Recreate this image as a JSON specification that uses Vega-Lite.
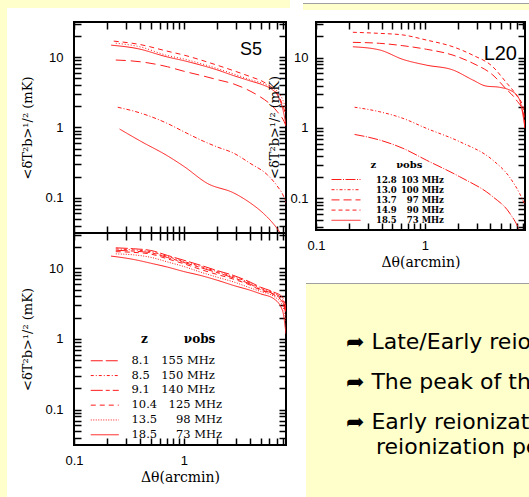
{
"$schema":"https://vega.github.io/schema/vega-lite/v6.json",
"padding":0,
"background":"white",
"config":{
 "view":{"stroke":null},
 "axis":{"domain":false,"grid":false,"ticks":true,"tickSize":7,"offset":-7,"tickColor":"#000","tickWidth":1.5,"tickOpacity":1,"labelFont":"Liberation Sans","labelFontSize":13,"labelColor":"#000","titleFont":"DejaVu Serif","titleFontSize":13,"titleFontWeight":"normal","titleColor":"#000","labelOverlap":false,"labelFlush":false}
},
"datasets":{
 "s5":[
  {"c":"c1","t":0.23,"v":16.9},{"c":"c1","t":0.4,"v":15.1},{"c":"c1","t":0.7,"v":12.2},{"c":"c1","t":1,"v":10.7},{"c":"c1","t":1.43,"v":9.1},{"c":"c1","t":2,"v":7.7},{"c":"c1","t":2.85,"v":6.4},{"c":"c1","t":4,"v":5.3},{"c":"c1","t":5.3,"v":4.45},{"c":"c1","t":6.3,"v":3.7},{"c":"c1","t":7.3,"v":2.8},{"c":"c1","t":8,"v":2.0},{"c":"c1","t":8.5,"v":1.5},
  {"c":"c2","t":0.24,"v":15.8},{"c":"c2","t":0.4,"v":14.0},{"c":"c2","t":0.7,"v":10.6},{"c":"c2","t":1,"v":9.4},{"c":"c2","t":1.43,"v":8.1},{"c":"c2","t":2,"v":6.9},{"c":"c2","t":2.85,"v":5.75},{"c":"c2","t":4,"v":4.8},{"c":"c2","t":5.3,"v":4.2},{"c":"c2","t":6.3,"v":3.7},{"c":"c2","t":7.3,"v":3.1},{"c":"c2","t":8,"v":2.4},{"c":"c2","t":8.5,"v":1.8},
  {"c":"c3","t":0.218,"v":14.8},{"c":"c3","t":0.38,"v":13.2},{"c":"c3","t":0.7,"v":10.1},{"c":"c3","t":1,"v":8.9},{"c":"c3","t":1.43,"v":7.7},{"c":"c3","t":2,"v":6.6},{"c":"c3","t":2.85,"v":5.45},{"c":"c3","t":4,"v":4.6},{"c":"c3","t":5.3,"v":4.0},{"c":"c3","t":6.3,"v":3.5},{"c":"c3","t":7.1,"v":2.9},{"c":"c3","t":7.9,"v":1.9},{"c":"c3","t":8.5,"v":1.1},
  {"c":"c4","t":0.24,"v":9.1},{"c":"c4","t":0.4,"v":8.6},{"c":"c4","t":0.71,"v":7.3},{"c":"c4","t":1,"v":6.3},{"c":"c4","t":1.43,"v":5.5},{"c":"c4","t":2,"v":4.8},{"c":"c4","t":2.85,"v":4.15},{"c":"c4","t":4,"v":3.3},{"c":"c4","t":5,"v":2.7},{"c":"c4","t":6,"v":2.2},{"c":"c4","t":7.1,"v":1.67},{"c":"c4","t":8.2,"v":1.2},{"c":"c4","t":8.5,"v":1.05},
  {"c":"c5","t":0.25,"v":1.94},{"c":"c5","t":0.41,"v":1.59},{"c":"c5","t":0.7,"v":1.15},{"c":"c5","t":1,"v":0.87},{"c":"c5","t":1.5,"v":0.64},{"c":"c5","t":2,"v":0.53},{"c":"c5","t":2.85,"v":0.43},{"c":"c5","t":4,"v":0.31},{"c":"c5","t":5.8,"v":0.21},{"c":"c5","t":7,"v":0.15},{"c":"c5","t":8.1,"v":0.104},{"c":"c5","t":8.5,"v":0.085},
  {"c":"c6","t":0.26,"v":0.95},{"c":"c6","t":0.41,"v":0.63},{"c":"c6","t":0.7,"v":0.4},{"c":"c6","t":1,"v":0.28},{"c":"c6","t":1.64,"v":0.16},{"c":"c6","t":2.85,"v":0.117},{"c":"c6","t":4,"v":0.085},{"c":"c6","t":5.3,"v":0.06},{"c":"c6","t":6.5,"v":0.043},{"c":"c6","t":7.3,"v":0.034},{"c":"c6","t":7.7,"v":0.03}
 ],
 "l20":[
  {"c":"14.9\u2002\u200790 MHz","t":0.218,"v":22.8},{"c":"14.9\u2002\u200790 MHz","t":0.384,"v":22.0},{"c":"14.9\u2002\u200790 MHz","t":0.628,"v":20.9},{"c":"14.9\u2002\u200790 MHz","t":1.03,"v":17.7},{"c":"14.9\u2002\u200790 MHz","t":1.81,"v":14.2},{"c":"14.9\u2002\u200790 MHz","t":2.75,"v":10.8},{"c":"14.9\u2002\u200790 MHz","t":4.2,"v":7.4},{"c":"14.9\u2002\u200790 MHz","t":5.5,"v":4.55},{"c":"14.9\u2002\u200790 MHz","t":6.9,"v":2.94},{"c":"14.9\u2002\u200790 MHz","t":7.95,"v":2.0},{"c":"14.9\u2002\u200790 MHz","t":8.3,"v":1.0},
  {"c":"13.7\u2002\u200797 MHz","t":0.218,"v":16.4},{"c":"13.7\u2002\u200797 MHz","t":0.384,"v":15.9},{"c":"13.7\u2002\u200797 MHz","t":0.628,"v":14.7},{"c":"13.7\u2002\u200797 MHz","t":1.03,"v":13.1},{"c":"13.7\u2002\u200797 MHz","t":1.81,"v":10.8},{"c":"13.7\u2002\u200797 MHz","t":2.75,"v":8.3},{"c":"13.7\u2002\u200797 MHz","t":4.2,"v":5.65},{"c":"13.7\u2002\u200797 MHz","t":5.5,"v":3.65},{"c":"13.7\u2002\u200797 MHz","t":6.9,"v":2.5},{"c":"13.7\u2002\u200797 MHz","t":7.95,"v":1.7},{"c":"13.7\u2002\u200797 MHz","t":8.3,"v":1.0},
  {"c":"18.5\u2002\u200773 MHz","t":0.218,"v":14.2},{"c":"18.5\u2002\u200773 MHz","t":0.384,"v":12.8},{"c":"18.5\u2002\u200773 MHz","t":0.628,"v":9.4},{"c":"18.5\u2002\u200773 MHz","t":1.03,"v":7.8},{"c":"18.5\u2002\u200773 MHz","t":1.81,"v":6.65},{"c":"18.5\u2002\u200773 MHz","t":2.75,"v":4.8},{"c":"18.5\u2002\u200773 MHz","t":3.63,"v":3.94},{"c":"18.5\u2002\u200773 MHz","t":4.84,"v":3.78},{"c":"18.5\u2002\u200773 MHz","t":6.41,"v":3.27},{"c":"18.5\u2002\u200773 MHz","t":7.4,"v":2.5},{"c":"18.5\u2002\u200773 MHz","t":8.3,"v":1.0},
  {"c":"13.0\u2002100 MHz","t":0.226,"v":1.97},{"c":"13.0\u2002100 MHz","t":0.384,"v":1.7},{"c":"13.0\u2002100 MHz","t":0.628,"v":1.37},{"c":"13.0\u2002100 MHz","t":1.03,"v":0.99},{"c":"13.0\u2002100 MHz","t":2.08,"v":0.64},{"c":"13.0\u2002100 MHz","t":4.2,"v":0.35},{"c":"13.0\u2002100 MHz","t":6.0,"v":0.2},{"c":"13.0\u2002100 MHz","t":7.4,"v":0.118},{"c":"13.0\u2002100 MHz","t":8.3,"v":0.081},
  {"c":"12.8\u2002103 MHz","t":0.226,"v":0.81},{"c":"12.8\u2002103 MHz","t":0.384,"v":0.675},{"c":"12.8\u2002103 MHz","t":0.628,"v":0.515},{"c":"12.8\u2002103 MHz","t":1.03,"v":0.35},{"c":"12.8\u2002103 MHz","t":2.08,"v":0.204},{"c":"12.8\u2002103 MHz","t":4.2,"v":0.106},{"c":"12.8\u2002103 MHz","t":6.0,"v":0.062},{"c":"12.8\u2002103 MHz","t":7.4,"v":0.034},{"c":"12.8\u2002103 MHz","t":7.6,"v":0.03}
 ],
 "zb":[
  {"c":"\u20078.1\u2003155 MHz","t":0.24,"v":19.5},{"c":"\u20078.1\u2003155 MHz","t":0.35,"v":18.9},{"c":"\u20078.1\u2003155 MHz","t":0.5,"v":17.9},{"c":"\u20078.1\u2003155 MHz","t":0.71,"v":15.2},{"c":"\u20078.1\u2003155 MHz","t":1,"v":13.0},{"c":"\u20078.1\u2003155 MHz","t":1.43,"v":11.0},{"c":"\u20078.1\u2003155 MHz","t":2,"v":9.3},{"c":"\u20078.1\u2003155 MHz","t":2.85,"v":7.9},{"c":"\u20078.1\u2003155 MHz","t":4,"v":6.4},{"c":"\u20078.1\u2003155 MHz","t":5,"v":5.4},{"c":"\u20078.1\u2003155 MHz","t":6.6,"v":4.6},{"c":"\u20078.1\u2003155 MHz","t":7.9,"v":3.9},{"c":"\u20078.1\u2003155 MHz","t":8.5,"v":2.8},
  {"c":"\u20078.5\u2003150 MHz","t":0.24,"v":18.8},{"c":"\u20078.5\u2003150 MHz","t":0.35,"v":18.2},{"c":"\u20078.5\u2003150 MHz","t":0.5,"v":17.2},{"c":"\u20078.5\u2003150 MHz","t":0.71,"v":14.7},{"c":"\u20078.5\u2003150 MHz","t":1,"v":12.5},{"c":"\u20078.5\u2003150 MHz","t":1.43,"v":10.6},{"c":"\u20078.5\u2003150 MHz","t":2,"v":9.0},{"c":"\u20078.5\u2003150 MHz","t":2.85,"v":7.6},{"c":"\u20078.5\u2003150 MHz","t":4,"v":6.2},{"c":"\u20078.5\u2003150 MHz","t":5,"v":5.2},{"c":"\u20078.5\u2003150 MHz","t":6.6,"v":4.45},{"c":"\u20078.5\u2003150 MHz","t":7.9,"v":3.6},{"c":"\u20078.5\u2003150 MHz","t":8.5,"v":2.6},
  {"c":"\u20079.1\u2003140 MHz","t":0.24,"v":18.0},{"c":"\u20079.1\u2003140 MHz","t":0.35,"v":17.5},{"c":"\u20079.1\u2003140 MHz","t":0.5,"v":16.6},{"c":"\u20079.1\u2003140 MHz","t":0.71,"v":14.2},{"c":"\u20079.1\u2003140 MHz","t":1,"v":12.1},{"c":"\u20079.1\u2003140 MHz","t":1.43,"v":10.2},{"c":"\u20079.1\u2003140 MHz","t":2,"v":8.7},{"c":"\u20079.1\u2003140 MHz","t":2.85,"v":7.3},{"c":"\u20079.1\u2003140 MHz","t":4,"v":6.0},{"c":"\u20079.1\u2003140 MHz","t":5,"v":5.0},{"c":"\u20079.1\u2003140 MHz","t":6.6,"v":4.3},{"c":"\u20079.1\u2003140 MHz","t":7.9,"v":3.4},{"c":"\u20079.1\u2003140 MHz","t":8.5,"v":2.4},
  {"c":"10.4\u2003125 MHz","t":0.24,"v":17.2},{"c":"10.4\u2003125 MHz","t":0.35,"v":16.8},{"c":"10.4\u2003125 MHz","t":0.5,"v":15.9},{"c":"10.4\u2003125 MHz","t":0.71,"v":13.6},{"c":"10.4\u2003125 MHz","t":1,"v":11.6},{"c":"10.4\u2003125 MHz","t":1.43,"v":9.6},{"c":"10.4\u2003125 MHz","t":2,"v":8.2},{"c":"10.4\u2003125 MHz","t":2.85,"v":7.0},{"c":"10.4\u2003125 MHz","t":4,"v":5.8},{"c":"10.4\u2003125 MHz","t":5,"v":4.9},{"c":"10.4\u2003125 MHz","t":6.6,"v":4.2},{"c":"10.4\u2003125 MHz","t":7.9,"v":3.3},{"c":"10.4\u2003125 MHz","t":8.5,"v":2.2},
  {"c":"13.5\u2003\u200798 MHz","t":0.24,"v":16.0},{"c":"13.5\u2003\u200798 MHz","t":0.35,"v":15.5},{"c":"13.5\u2003\u200798 MHz","t":0.5,"v":14.3},{"c":"13.5\u2003\u200798 MHz","t":0.71,"v":12.3},{"c":"13.5\u2003\u200798 MHz","t":1,"v":10.6},{"c":"13.5\u2003\u200798 MHz","t":1.43,"v":8.8},{"c":"13.5\u2003\u200798 MHz","t":2,"v":7.5},{"c":"13.5\u2003\u200798 MHz","t":2.85,"v":6.4},{"c":"13.5\u2003\u200798 MHz","t":4,"v":5.3},{"c":"13.5\u2003\u200798 MHz","t":5,"v":4.7},{"c":"13.5\u2003\u200798 MHz","t":6.6,"v":4.0},{"c":"13.5\u2003\u200798 MHz","t":7.9,"v":3.0},{"c":"13.5\u2003\u200798 MHz","t":8.5,"v":1.8},
  {"c":"18.5\u2003\u200773 MHz","t":0.217,"v":14.9},{"c":"18.5\u2003\u200773 MHz","t":0.353,"v":13.3},{"c":"18.5\u2003\u200773 MHz","t":0.5,"v":11.8},{"c":"18.5\u2003\u200773 MHz","t":0.71,"v":10.4},{"c":"18.5\u2003\u200773 MHz","t":1,"v":9.0},{"c":"18.5\u2003\u200773 MHz","t":1.43,"v":7.9},{"c":"18.5\u2003\u200773 MHz","t":2,"v":6.8},{"c":"18.5\u2003\u200773 MHz","t":2.85,"v":5.7},{"c":"18.5\u2003\u200773 MHz","t":4,"v":4.9},{"c":"18.5\u2003\u200773 MHz","t":5,"v":4.35},{"c":"18.5\u2003\u200773 MHz","t":6.6,"v":3.7},{"c":"18.5\u2003\u200773 MHz","t":7.9,"v":2.52},{"c":"18.5\u2003\u200773 MHz","t":8.5,"v":1.18}
 ],
 "notes":[
  {"para":"1","level":0,"text":"➦ Late/Early reio"},
  {"para":"2","level":0,"text":"➦ The peak of the"},
  {"para":"3","level":0,"text":"➦ Early reionizati"},
  {"para":"3","level":1,"text":"reionization pe"}
 ]
},
"spacing":0,
"bounds":"full",
"resolve":{"scale":{"strokeDash":"independent"},"legend":{"strokeDash":"independent"}},
"hconcat":[
 {"width":7,"height":497,"view":{"stroke":null,"fill":"#ffffcc"},"data":{"values":[]},"mark":"text","encoding":{"text":{"value":""}}},
 {"spacing":0,"bounds":"full",
  "resolve":{"scale":{"strokeDash":"independent"},"legend":{"strokeDash":"independent"}},
  "vconcat":[
   {"spacing":0,"bounds":"full","hconcat":[
     {"width":283,"height":8,"view":{"stroke":null,"fill":"#ffffcc"},"data":{"values":[]},"mark":"text","encoding":{"text":{"value":""}}},
     {"width":13,"height":1,"view":{"stroke":null},"data":{"values":[]},"mark":"text","encoding":{"text":{"value":""}}},
     {"spacing":0,"bounds":"full","vconcat":[
       {"width":226,"height":3,"view":{"stroke":null},"data":{"values":[]},"mark":"text","encoding":{"text":{"value":""}}},
       {"width":226,"height":1,"view":{"stroke":null,"fill":"#a0a0a0"},"data":{"values":[]},"mark":"text","encoding":{"text":{"value":""}}},
       {"width":226,"height":6,"view":{"stroke":null,"fill":"#ffffcc"},"data":{"values":[]},"mark":"text","encoding":{"text":{"value":""}}}
     ]}
   ]},
   {"spacing":0,"bounds":"full",
    "resolve":{"scale":{"strokeDash":"independent"},"legend":{"strokeDash":"independent"}},
    "hconcat":[
     {"width":13,"height":1,"view":{"stroke":null},"data":{"values":[]},"mark":"text","encoding":{"text":{"value":""}}},
     {"spacing":-21,"bounds":"full",
      "resolve":{"scale":{"strokeDash":"independent"},"legend":{"strokeDash":"independent"}},
      "hconcat":[
       {"spacing":0,"bounds":"flush",
        "resolve":{"scale":{"strokeDash":"independent"},"legend":{"strokeDash":"independent"}},
        "vconcat":[
         {"width":212,"height":12,"view":{"stroke":null},"data":{"values":[]},"mark":"text","encoding":{"text":{"value":""}}},
         {"width":212,"height":211,
          "view":{"stroke":"#000","strokeWidth":2},
          "title":{"text":"S5","anchor":"end","frame":"group","offset":-55,"dx":-24,"fontSize":18,"font":"Liberation Sans","fontWeight":"normal","color":"#000","baseline":"alphabetic"},
          "data":{"name":"s5"},
          "layer":[
           {"transform":[{"filter":{"field":"c","oneOf":["c1","c2","c3"]}}],
            "mark":{"type":"line","clip":true,"color":"#ff1a1a","strokeWidth":1,"interpolate":"monotone"},
            "encoding":{
             "x":{"field":"t","type":"quantitative","scale":{"type":"log","domain":[0.1,8.5],"nice":false},
                  "axis":{"orient":"bottom","values":[0.1,0.2,0.3,0.4,0.5,0.6,0.7,0.8,0.9,1,2,3,4,5,6,7,8],"labels":false,"title":null}},
             "y":{"field":"v","type":"quantitative","scale":{"type":"log","domain":[0.0316,31.6],"nice":false},
                  "axis":{"orient":"left","values":[0.04,0.05,0.06,0.07,0.08,0.09,0.1,0.2,0.3,0.4,0.5,0.6,0.7,0.8,0.9,1,2,3,4,5,6,7,8,9,10,20,30],"labelExpr":"datum.value == 0.1 ? '0.1' : datum.value == 1 ? '1' : datum.value == 10 ? '10' : ''","labelPadding":11,"title":"<δT²b>¹/² (mK)","titlePadding":10}},
             "strokeDash":{"field":"c","type":"nominal","scale":{"domain":["c1","c2","c3","c4","c5","c6"],"range":[[5,4],[1,2],[1,0],[10,5],[4,2,1,2],[1,0]]},"legend":null}
            }},
           {"transform":[{"filter":{"field":"c","oneOf":["c4","c5","c6"]}}],
            "mark":{"type":"line","clip":true,"color":"#ff1a1a","strokeWidth":1,"interpolate":"monotone"},
            "encoding":{
             "x":{"field":"t","type":"quantitative","scale":{"type":"log","domain":[0.1,8.5],"nice":false},
                  "axis":{"orient":"top","values":[0.1,0.2,0.3,0.4,0.5,0.6,0.7,0.8,0.9,1,2,3,4,5,6,7,8],"labels":false,"title":null}},
             "y":{"field":"v","type":"quantitative","scale":{"type":"log","domain":[0.0316,31.6],"nice":false},
                  "axis":{"orient":"right","values":[0.04,0.05,0.06,0.07,0.08,0.09,0.1,0.2,0.3,0.4,0.5,0.6,0.7,0.8,0.9,1,2,3,4,5,6,7,8,9,10,20,30],"labels":false,"title":null}},
             "strokeDash":{"field":"c","type":"nominal","legend":null}
            }}
          ]},
         {"width":212,"height":212,
          "view":{"stroke":"#000","strokeWidth":2},
          "data":{"name":"zb"},
          "layer":[
           {"transform":[{"filter":{"field":"c","oneOf":["\u20078.1\u2003155 MHz","\u20078.5\u2003150 MHz","\u20079.1\u2003140 MHz"]}}],
            "mark":{"type":"line","clip":true,"color":"#ff1a1a","strokeWidth":1,"interpolate":"monotone"},
            "encoding":{
             "x":{"field":"t","type":"quantitative","scale":{"type":"log","domain":[0.1,8.5],"nice":false},
                  "axis":{"orient":"bottom","values":[0.1,0.2,0.3,0.4,0.5,0.6,0.7,0.8,0.9,1,2,3,4,5,6,7,8],"labelExpr":"datum.value == 0.1 ? '0.1' : datum.value == 1 ? '1' : ''","labelPadding":9,"title":"Δθ(arcmin)","titlePadding":3,"titleFontSize":14}},
             "y":{"field":"v","type":"quantitative","scale":{"type":"log","domain":[0.0316,31.6],"nice":false},
                  "axis":{"orient":"left","values":[0.04,0.05,0.06,0.07,0.08,0.09,0.1,0.2,0.3,0.4,0.5,0.6,0.7,0.8,0.9,1,2,3,4,5,6,7,8,9,10,20,30],"labelExpr":"datum.value == 0.1 ? '0.1' : datum.value == 1 ? '1' : datum.value == 10 ? '10' : ''","labelPadding":11,"title":"<δT²b>¹/² (mK)","titlePadding":10}},
             "strokeDash":{"field":"c","type":"nominal",
               "scale":{"domain":["\u20078.1\u2003155 MHz","\u20078.5\u2003150 MHz","\u20079.1\u2003140 MHz","10.4\u2003125 MHz","13.5\u2003\u200798 MHz","18.5\u2003\u200773 MHz"],"range":[[12,3],[3,2,1,2],[12,3,4,3],[5,4],[1,1.5],[1,0]]},
               "legend":{"orient":"none","legendX":25,"legendY":101,"title":"\u200b\u2003\u2003\u2003\u2002z\u2003\u2003\u2003νobs","titleFont":"DejaVu Serif","titleFontSize":12,"titleFontWeight":"bold","titleColor":"#000","titlePadding":9,"symbolType":"M-2.8,0L2.8,0","symbolSize":100,"symbolStrokeWidth":1,"symbolStrokeColor":"#333","labelFont":"DejaVu Serif","labelFontSize":11.5,"labelColor":"#000","labelOffset":21,"rowPadding":1.8,"padding":0,"labelLimit":300}}
            }},
           {"transform":[{"filter":{"field":"c","oneOf":["10.4\u2003125 MHz","13.5\u2003\u200798 MHz","18.5\u2003\u200773 MHz"]}}],
            "mark":{"type":"line","clip":true,"color":"#ff1a1a","strokeWidth":1,"interpolate":"monotone"},
            "encoding":{
             "x":{"field":"t","type":"quantitative","scale":{"type":"log","domain":[0.1,8.5],"nice":false},
                  "axis":{"orient":"top","values":[0.1,0.2,0.3,0.4,0.5,0.6,0.7,0.8,0.9,1,2,3,4,5,6,7,8],"labels":false,"title":null}},
             "y":{"field":"v","type":"quantitative","scale":{"type":"log","domain":[0.0316,31.6],"nice":false},
                  "axis":{"orient":"right","values":[0.04,0.05,0.06,0.07,0.08,0.09,0.1,0.2,0.3,0.4,0.5,0.6,0.7,0.8,0.9,1,2,3,4,5,6,7,8,9,10,20,30],"labels":false,"title":null}},
             "strokeDash":{"field":"c","type":"nominal"}
            }}
          ]}
        ]},
       {"spacing":0,"bounds":"flush","center":true,
        "resolve":{"scale":{"strokeDash":"independent"},"legend":{"strokeDash":"independent"}},
        "vconcat":[
         {"width":229,"height":12,"view":{"stroke":null},"data":{"values":[]},"mark":"text","encoding":{"text":{"value":""}}},
         {"width":209,"height":208,
          "view":{"stroke":"#000","strokeWidth":2},
          "title":{"text":"L20","anchor":"end","frame":"group","offset":-62,"dx":-8,"fontSize":20,"font":"Liberation Sans","fontWeight":"normal","color":"#000","baseline":"alphabetic"},
          "data":{"name":"l20"},
          "layer":[
           {"transform":[{"filter":{"field":"c","oneOf":["12.8\u2002103 MHz","13.0\u2002100 MHz","13.7\u2002\u200797 MHz"]}}],
            "mark":{"type":"line","clip":true,"color":"#ff1a1a","strokeWidth":1,"interpolate":"monotone"},
            "encoding":{
             "x":{"field":"t","type":"quantitative","scale":{"type":"log","domain":[0.1,8.3],"nice":false},
                  "axis":{"orient":"bottom","values":[0.1,0.2,0.3,0.4,0.5,0.6,0.7,0.8,0.9,1,2,3,4,5,6,7,8],"labelExpr":"datum.value == 0.1 ? '0.1' : datum.value == 1 ? '1' : ''","labelPadding":9,"title":"Δθ(arcmin)","titlePadding":3,"titleFontSize":14}},
             "y":{"field":"v","type":"quantitative","scale":{"type":"log","domain":[0.0357,31.9],"nice":false},
                  "axis":{"orient":"left","values":[0.04,0.05,0.06,0.07,0.08,0.09,0.1,0.2,0.3,0.4,0.5,0.6,0.7,0.8,0.9,1,2,3,4,5,6,7,8,9,10,20,30],"labelExpr":"datum.value == 0.1 ? '0.1' : datum.value == 1 ? '1' : datum.value == 10 ? '10' : ''","labelPadding":8,"title":"<δT²b>¹/² (mK)","titleX":-42,"titleY":105}},
             "strokeDash":{"field":"c","type":"nominal",
               "scale":{"domain":["12.8\u2002103 MHz","13.0\u2002100 MHz","13.7\u2002\u200797 MHz","14.9\u2002\u200790 MHz","18.5\u2002\u200773 MHz"],"range":[[10,1.5,1,1.5],[3,2,1,2],[8,4],[4,3],[1,0]]},
               "legend":{"orient":"none","legendX":24.5,"legendY":138,"title":"\u200b\u2003\u2003\u2003z\u2003\u2003νobs","titleFont":"DejaVu Serif","titleFontSize":10,"titleFontWeight":"bold","titleColor":"#000","titlePadding":4,"symbolType":"M-2.9,0L2.9,0","symbolSize":100,"symbolStrokeWidth":1,"symbolStrokeColor":"#333","labelFont":"DejaVu Serif","labelFontSize":8.5,"labelFontWeight":"bold","labelColor":"#000","labelOffset":24.5,"rowPadding":0.2,"padding":0,"labelLimit":300}}
            }},
           {"transform":[{"filter":{"field":"c","oneOf":["14.9\u2002\u200790 MHz","18.5\u2002\u200773 MHz"]}}],
            "mark":{"type":"line","clip":true,"color":"#ff1a1a","strokeWidth":1,"interpolate":"monotone"},
            "encoding":{
             "x":{"field":"t","type":"quantitative","scale":{"type":"log","domain":[0.1,8.3],"nice":false},
                  "axis":{"orient":"top","values":[0.1,0.2,0.3,0.4,0.5,0.6,0.7,0.8,0.9,1,2,3,4,5,6,7,8],"labels":false,"title":null}},
             "y":{"field":"v","type":"quantitative","scale":{"type":"log","domain":[0.0357,31.9],"nice":false},
                  "axis":{"orient":"right","values":[0.04,0.05,0.06,0.07,0.08,0.09,0.1,0.2,0.3,0.4,0.5,0.6,0.7,0.8,0.9,1,2,3,4,5,6,7,8,9,10,20,30],"labels":false,"title":null}},
             "strokeDash":{"field":"c","type":"nominal"}
            }}
          ]},
         {"width":229,"height":53,"view":{"stroke":null},"data":{"values":[]},"mark":"text","encoding":{"text":{"value":""}}},
         {"width":229,"height":1,"view":{"stroke":null,"fill":"#a0a0a0"},"data":{"values":[]},"mark":"text","encoding":{"text":{"value":""}}},
         {"width":229,"height":213,
          "view":{"stroke":null,"fill":"#ffffcc"},
          "data":{"name":"notes"},
          "layer":[
           {"transform":[{"filter":"datum.level == 0"}],
            "mark":{"type":"text","align":"left","baseline":"alphabetic","font":"DejaVu Sans","fontSize":22,"color":"#000"},
            "encoding":{
             "x":{"field":"level","type":"quantitative","scale":{"domain":[0,1],"range":[40,70]},"axis":null},
             "y":{"field":"para","type":"ordinal","scale":{"type":"point","range":[65,145],"padding":0},"axis":null},
             "text":{"field":"text"}}},
           {"transform":[{"filter":"datum.level == 1"}],
            "mark":{"type":"text","align":"left","baseline":"alphabetic","font":"DejaVu Sans","fontSize":22,"color":"#000","dy":25},
            "encoding":{
             "x":{"field":"level","type":"quantitative","scale":{"domain":[0,1],"range":[40,70]},"axis":null},
             "y":{"field":"para","type":"ordinal","scale":{"type":"point","range":[65,145],"padding":0},"axis":null},
             "text":{"field":"text"}}}
          ]}
        ]}
      ]}
    ]}
  ]}
]
}
